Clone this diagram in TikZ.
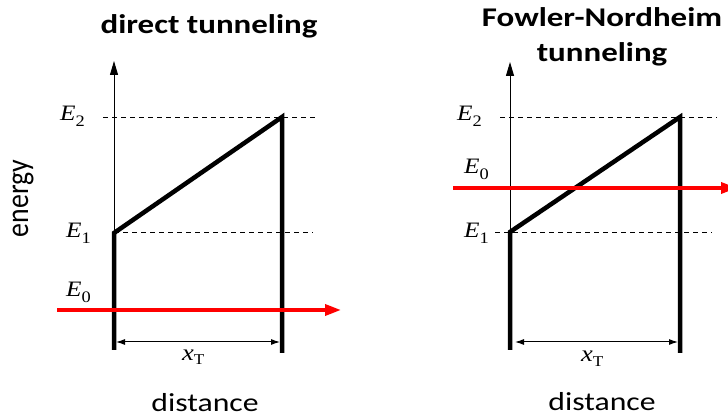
\documentclass[tikz,border=0pt]{standalone}
\usepackage{graphicx}
\usepackage{fontspec}
\setmainfont{Liberation Serif}
\newfontfamily\carlito{Carlito}
\usetikzlibrary{arrows.meta}
\newcommand{\hs}[1]{\scalebox{1.22}[1]{#1}}
\newcommand{\ls}[1]{\scalebox{1.15}[1]{#1}}
\newcommand{\elab}[2]{\ls{\textit{#1}\raisebox{-5.5pt}{\fontsize{16}{16}\selectfont #2}}}
\begin{document}
\begin{tikzpicture}[x=1pt,y=-1pt,
  barrier/.style={line width=4.5pt},
  level/.style={line width=0.9pt, dash pattern=on 5pt off 4pt},
  axisline/.style={line width=1pt,-{Triangle[length=14pt,width=8pt]}},
  electron/.style={red, line width=3.5pt,-{Triangle[length=16pt,width=11pt]}},
  dimline/.style={line width=1pt,{Latex[length=9pt,width=6pt]}-{Latex[length=9pt,width=6pt]}},
  elabel/.style={font=\fontsize{22}{22}\selectfont, inner sep=0pt, anchor=base west},
  title/.style={font=\carlito\bfseries\fontsize{27}{27}\selectfont, inner sep=0pt, anchor=base},
  axlabel/.style={font=\carlito\fontsize{26}{26}\selectfont, inner sep=0pt, anchor=base}
]
\useasboundingbox (0,0) rectangle (728,419);

% ---------- left panel: direct tunneling ----------
\node[title] (t1) at (209,34) {\hs{direct tunneling}};
\coordinate (a1b) at (114,233);
\coordinate (a1t) at (114,61);
\draw[axisline] (a1b) -- (a1t);
\coordinate (e2l1) at (103,117); \coordinate (e2r1) at (318,117);
\coordinate (e1l1) at (114,232.5); \coordinate (e1r1) at (313,232.5);
\draw[level] (e2l1) -- (e2r1);
\draw[level] (e1l1) -- (e1r1);
\coordinate (p1a) at (114,350);
\coordinate (p1b) at (114,233);
\coordinate (p1c) at (282,117);
\coordinate (p1d) at (282,353);
\draw[barrier, line join=miter] (p1a) -- (p1b) -- (p1c) -- (p1d);
\coordinate (r1s) at (57,310); \coordinate (r1e) at (341,310);
\draw[electron] (r1s) -- (r1e);
\coordinate (d1l) at (116,342); \coordinate (d1r) at (280,342);
\draw[dimline] (d1l) -- (d1r);
\node[elabel] (E2a) at (60,121) {\elab{E}{2}};
\node[elabel] (E1a) at (66,238) {\elab{E}{1}};
\node[elabel] (E0a) at (66,297) {\elab{E}{0}};
\node[elabel, font=\fontsize{23}{23}\selectfont] (xTa) at (182,360) {\ls{\textit{x}\raisebox{-4.5pt}{\fontsize{15}{15}\selectfont T}}};
\node[axlabel] (dist1) at (205,411) {\hs{distance}};
\node[font=\carlito\fontsize{26}{26}\selectfont, inner sep=0pt, anchor=base, rotate=90] (en) at (28,198.5) {\scalebox{1.07}[1.22]{energy}};

% ---------- right panel: Fowler-Nordheim ----------
\node[title] (t2a) at (602,27) {\hs{Fowler-Nordheim}};
\node[title] (t2b) at (602,62) {\hs{tunneling}};
\coordinate (a2b) at (510,232);
\coordinate (a2t) at (510,62);
\draw[axisline] (a2b) -- (a2t);
\coordinate (e2l2) at (500,117); \coordinate (e2r2) at (717,117);
\coordinate (e1l2) at (495,232); \coordinate (e1r2) at (712,232);
\draw[level] (e2l2) -- (e2r2);
\draw[level] (e1l2) -- (e1r2);
\coordinate (p2a) at (510,350);
\coordinate (p2b) at (510,232);
\coordinate (p2c) at (680,117);
\coordinate (p2d) at (680,353);
\draw[barrier, line join=miter] (p2a) -- (p2b) -- (p2c) -- (p2d);
\coordinate (r2s) at (453,188); \coordinate (r2e) at (737,188);
\draw[electron] (r2s) -- (r2e);
\coordinate (d2l) at (515,342); \coordinate (d2r) at (678,342);
\draw[dimline] (d2l) -- (d2r);
\node[elabel] (E2b) at (457,121) {\elab{E}{2}};
\node[elabel] (E0b) at (464,174) {\elab{E}{0}};
\node[elabel] (E1b) at (464,238) {\elab{E}{1}};
\node[elabel, font=\fontsize{23}{23}\selectfont] (xTb) at (581,362) {\ls{\textit{x}\raisebox{-4.5pt}{\fontsize{15}{15}\selectfont T}}};
\node[axlabel] (dist2) at (602,410) {\hs{distance}};
\end{tikzpicture}
\end{document}
